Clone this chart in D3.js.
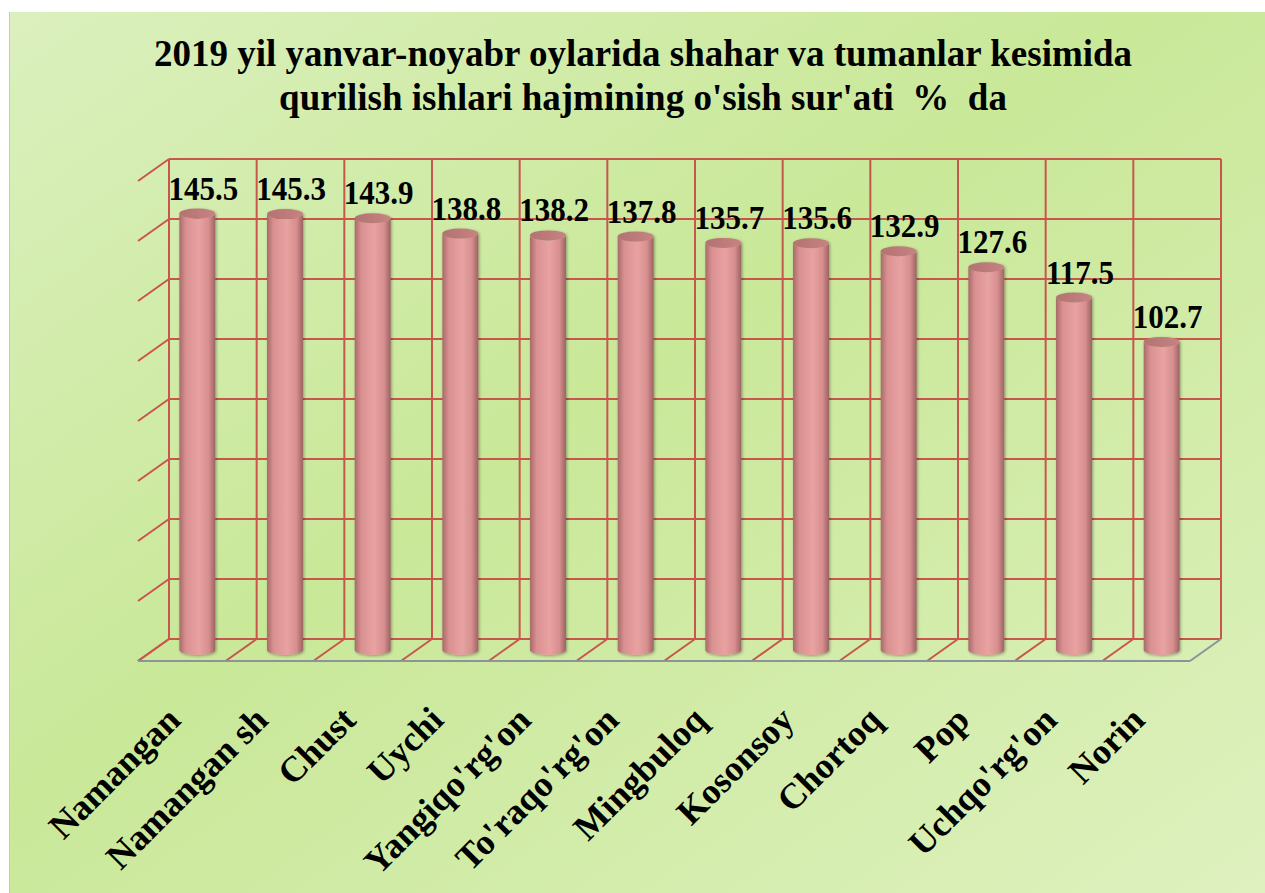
<!DOCTYPE html>
<html>
<head>
<meta charset="utf-8">
<script src="https://cdn.jsdelivr.net/npm/d3@7/dist/d3.min.js"></script>
<style>
  body { margin: 0; background: #fff; }
  text { font-family: "Liberation Serif", "Times New Roman", serif; font-weight: bold; fill: #000; }
</style>
</head>
<body>
<svg id="chart" width="1265" height="893"></svg>
<script>
'use strict';

const categories = ['Namangan', 'Namangan sh', 'Chust', 'Uychi', "Yangiqo'rg'on", "To'raqo'rg'on",
  'Mingbuloq', 'Kosonsoy', 'Chortoq', 'Pop', "Uchqo'rg'on", 'Norin'];
const values = [145.5, 145.3, 143.9, 138.8, 138.2, 137.8, 135.7, 135.6, 132.9, 127.6, 117.5, 102.7];
const yTicks = [0, 20, 40, 60, 80, 100, 120, 140, 160];
const titleLines = ['2019 yil yanvar-noyabr oylarida shahar va tumanlar kesimida',
  "qurilish ishlari hajmining o'sish sur'ati  %  da"];

const W = 1265, H = 893;
const WALL_LEFT = 169, WALL_RIGHT = 1221, WALL_TOP = 159, WALL_BOTTOM = 639;
const DEPTH_X = -31, DEPTH_Y = 22;
const GRID_COLOR = '#c9554d';
const EDGE_COLOR = '#8d929c';

let svg = d3.select('#chart');
let defs = svg.append('defs');

// background panel gradient
let bg = defs.append('linearGradient').attr('id', 'bg')
  .attr('x1', '0%').attr('y1', '0%').attr('x2', '100%').attr('y2', '100%');
bg.append('stop').attr('offset', '0%').attr('stop-color', '#dbf0be');
bg.append('stop').attr('offset', '45%').attr('stop-color', '#c9e898');
bg.append('stop').attr('offset', '100%').attr('stop-color', '#def1bf');

// cylinder body shading
let body = defs.append('linearGradient').attr('id', 'cyl')
  .attr('x1', '0%').attr('y1', '0%').attr('x2', '100%').attr('y2', '0%');
body.append('stop').attr('offset', '0%').attr('stop-color', '#a86a6a');
body.append('stop').attr('offset', '18%').attr('stop-color', '#d99090');
body.append('stop').attr('offset', '55%').attr('stop-color', '#e9a2a2');
body.append('stop').attr('offset', '82%').attr('stop-color', '#d68e8e');
body.append('stop').attr('offset', '100%').attr('stop-color', '#9c6262');

let cap = defs.append('linearGradient').attr('id', 'cap')
  .attr('x1', '0%').attr('y1', '0%').attr('x2', '100%').attr('y2', '0%');
cap.append('stop').attr('offset', '0%').attr('stop-color', '#b37272');
cap.append('stop').attr('offset', '100%').attr('stop-color', '#c88282');

let shadow = defs.append('filter').attr('id', 'shadow')
  .attr('x', '-30%').attr('y', '-10%').attr('width', '160%').attr('height', '120%');
shadow.append('feGaussianBlur').attr('in', 'SourceAlpha').attr('stdDeviation', 1.5);
shadow.append('feOffset').attr('dx', 1).attr('dy', 1).attr('result', 'b');
shadow.append('feComponentTransfer').append('feFuncA').attr('type', 'linear').attr('slope', 0.35);
let merge = shadow.append('feMerge');
merge.append('feMergeNode');
merge.append('feMergeNode').attr('in', 'SourceGraphic');

svg.append('rect').attr('x', 10).attr('y', 12).attr('width', W - 10).attr('height', H - 12)
  .attr('fill', 'url(#bg)');
svg.append('line').attr('x1', 9.5).attr('x2', 9.5).attr('y1', 12).attr('y2', H)
  .attr('stroke', '#c4c8cc').attr('stroke-width', 1);

// scales
let x = d3.scaleBand().domain(categories).range([WALL_LEFT, WALL_RIGHT]).paddingInner(0.59).paddingOuter(0.295);
let y = d3.scaleLinear().domain([0, 160]).range([WALL_BOTTOM, WALL_TOP]);
let step = x.step();

let grid = svg.append('g').attr('fill', 'none').attr('stroke-width', 2);

// back wall horizontal lines + left wall diagonals
yTicks.forEach(function(t) {
  grid.append('line').attr('x1', WALL_LEFT).attr('x2', WALL_RIGHT)
    .attr('y1', y(t)).attr('y2', y(t)).attr('stroke', GRID_COLOR);
  grid.append('line').attr('x1', WALL_LEFT).attr('y1', y(t))
    .attr('x2', WALL_LEFT + DEPTH_X).attr('y2', y(t) + DEPTH_Y).attr('stroke', GRID_COLOR);
});

// back wall verticals + floor diagonals
let bounds = d3.range(categories.length + 1).map(function(i) { return WALL_LEFT + i * step; });
bounds.forEach(function(bx, i) {
  grid.append('line').attr('x1', bx).attr('x2', bx).attr('y1', WALL_TOP).attr('y2', WALL_BOTTOM)
    .attr('stroke', GRID_COLOR);
  grid.append('line').attr('x1', bx).attr('y1', WALL_BOTTOM)
    .attr('x2', bx + DEPTH_X).attr('y2', WALL_BOTTOM + DEPTH_Y)
    .attr('stroke', i === bounds.length - 1 ? EDGE_COLOR : GRID_COLOR);
});

// floor front edge
grid.append('line').attr('x1', WALL_LEFT + DEPTH_X).attr('x2', WALL_RIGHT + DEPTH_X)
  .attr('y1', WALL_BOTTOM + DEPTH_Y).attr('y2', WALL_BOTTOM + DEPTH_Y)
  .attr('stroke', EDGE_COLOR);

// cylinders
const RX = x.bandwidth() / 2, RY = 5;
let data = categories.map(function(c, i) { return { name: c, value: values[i] }; });

function cx(d) { return x(d.name) + x.bandwidth() / 2 + DEPTH_X / 2; }
function topY(d) { return y(d.value) + DEPTH_Y / 2; }
const BASE_Y = y(0) + DEPTH_Y / 2;

let bars = svg.append('g').selectAll('g.bar').data(data).enter()
  .append('g').attr('class', 'bar').attr('filter', 'url(#shadow)');

bars.append('path')
  .attr('d', function(d) {
    let l = cx(d) - RX, r = cx(d) + RX, t = topY(d);
    return 'M' + l + ',' + t + ' L' + l + ',' + BASE_Y +
      ' A' + RX + ',' + RY + ' 0 0 0 ' + r + ',' + BASE_Y +
      ' L' + r + ',' + t + ' A' + RX + ',' + RY + ' 0 0 1 ' + l + ',' + t + 'Z';
  })
  .attr('fill', 'url(#cyl)');

bars.append('ellipse')
  .attr('cx', cx).attr('cy', topY).attr('rx', RX).attr('ry', RY)
  .attr('fill', 'url(#cap)');

// value labels
svg.append('g').selectAll('text').data(data).enter().append('text')
  .attr('transform', function(d) {
    return 'translate(' + (cx(d) + 6) + ',' + (topY(d) - 14) + ') scale(1,1.06)';
  })
  .attr('text-anchor', 'middle')
  .attr('font-size', 31)
  .text(function(d) { return d.value.toFixed(1); });

// category labels
svg.append('g').selectAll('text').data(data).enter().append('text')
  .attr('transform', function(d) {
    return 'translate(' + (cx(d) - 15) + ',' + 722 + ') rotate(-45)';
  })
  .attr('text-anchor', 'end')
  .attr('font-size', 36)
  .text(function(d) { return d.name; });

// title
svg.append('g').selectAll('text').data(titleLines).enter().append('text')
  .attr('x', 643)
  .attr('y', function(d, i) { return 66 + i * 44; })
  .attr('text-anchor', 'middle')
  .attr('font-size', 37)
  .style('white-space', 'pre')
  .text(function(d) { return d; });
</script>
</body>
</html>
